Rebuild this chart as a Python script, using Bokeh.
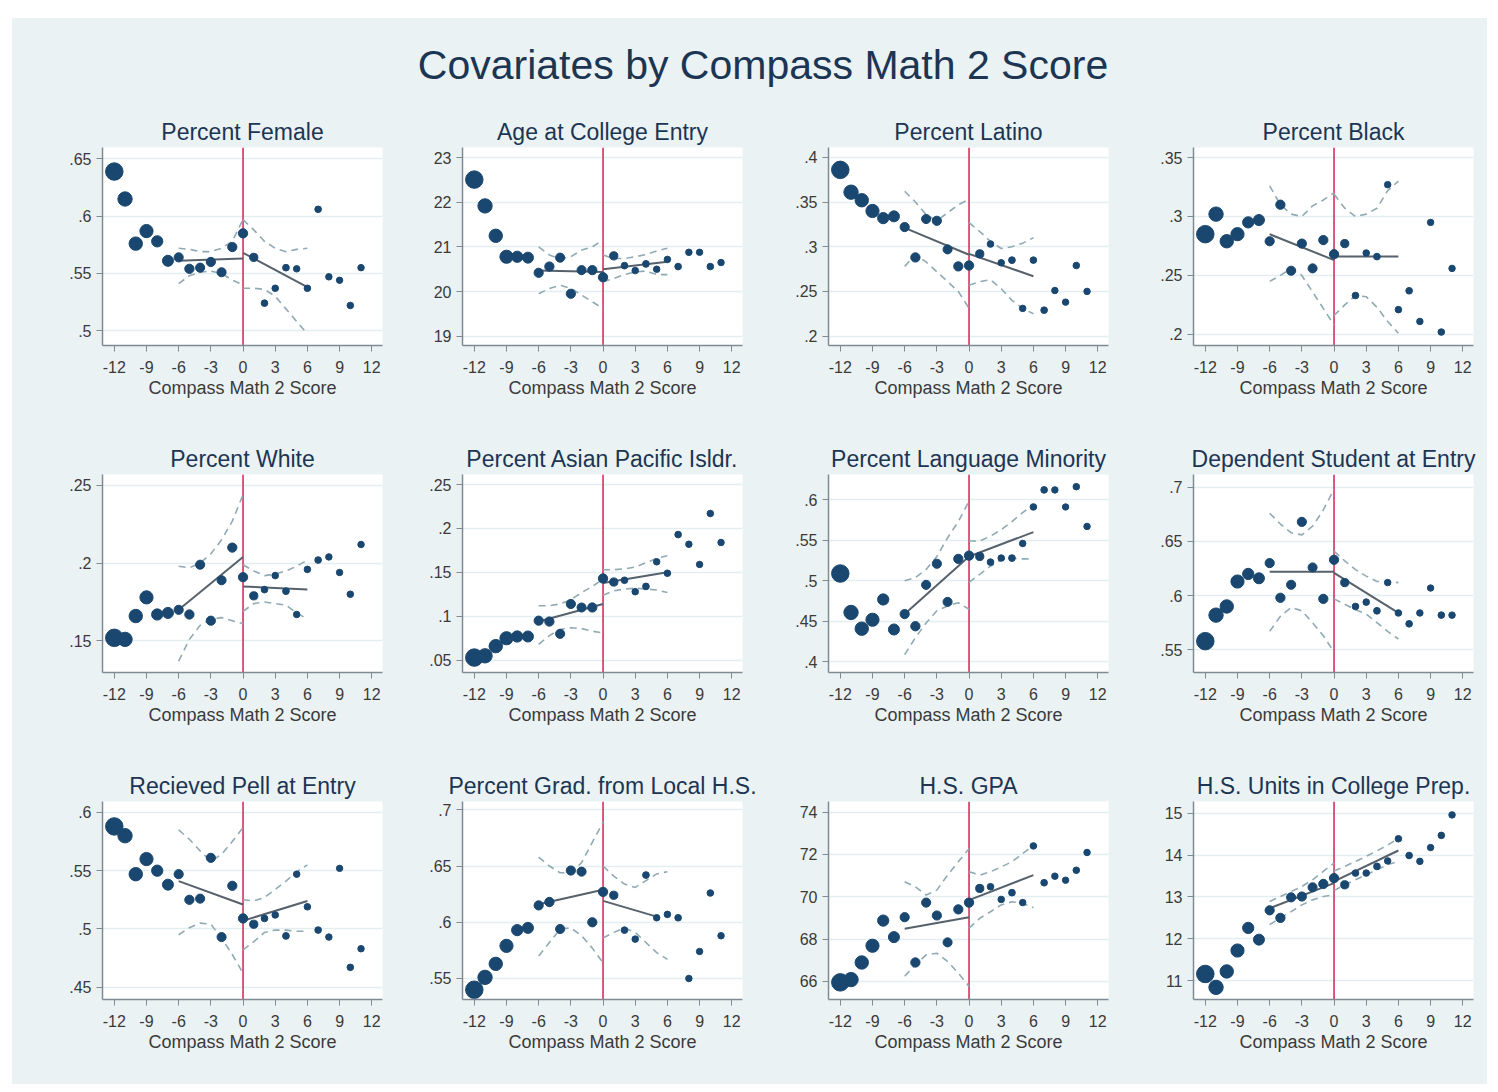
import numpy as np
from bokeh.plotting import figure
from bokeh.layouts import column, row
from bokeh.models import Span, FixedTicker, Spacer
from bokeh.embed import file_html
from bokeh.resources import INLINE

# ---------------- data ----------------
main_title = "Covariates by Compass Math 2 Score"
x_label = "Compass Math 2 Score"
score_bins = list(range(-12, 12))
x_ticks = [-12, -9, -6, -3, 0, 3, 6, 9, 12]
x_tick_labels = ["-12", "-9", "-6", "-3", "0", "3", "6", "9", "12"]
# approximate number of students per score bin
n_obs = [2900, 1950, 1700, 1650, 1200, 1150, 800, 820, 790, 800, 780, 810,
         820, 640, 420, 410, 430, 400, 410, 420, 400, 390, 410, 400]
fit_left_x = [-6, 0]
fit_right_x = [0, 6]
ci_left_x = [-6, -5, -4, -3, -2, -1, 0]
ci_right_x = [0, 1, 2, 3, 4, 5, 6]

titles = ["Percent Female", "Age at College Entry", "Percent Latino", "Percent Black",
          "Percent White", "Percent Asian Pacific Isldr.", "Percent Language Minority",
          "Dependent Student at Entry", "Recieved Pell at Entry",
          "Percent Grad. from Local H.S.", "H.S. GPA", "H.S. Units in College Prep."]

female = [.639, .615, .576, .587, .578, .561, .564, .554, .555, .560, .551, .573,
          .585, .564, .524, .537, .555, .554, .537, .606, .547, .544, .522, .555]
female_fit_l = [.561, .563]
female_fit_r = [.568, .538]
female_ci_lh = [.572, .571, .569, .569, .572, .578, .597]
female_ci_ll = [.541, .548, .551, .552, .550, .544, .540]
female_ci_rh = [.597, .588, .578, .572, .569, .571, .572]
female_ci_rl = [.537, .537, .536, .530, .519, .508, .497]

age = [22.51, 21.92, 21.25, 20.78, 20.78, 20.76, 20.42, 20.56, 20.76, 19.95, 20.48, 20.48,
       20.32, 20.80, 20.58, 20.47, 20.62, 20.50, 20.72, 20.56, 20.88, 20.88, 20.56, 20.65]
age_fit_l = [20.47, 20.44]
age_fit_r = [20.50, 20.67]
age_ci_lh = [21.00, 20.82, 20.73, 20.78, 20.93, 21.00, 21.16]
age_ci_ll = [19.95, 20.07, 20.14, 20.07, 19.92, 19.77, 19.62]
age_ci_rh = [20.82, 20.74, 20.74, 20.78, 20.83, 20.91, 20.97]
age_ci_rl = [20.22, 20.29, 20.38, 20.44, 20.46, 20.38, 20.38]

latino = [.386, .361, .352, .340, .332, .334, .322, .288, .331, .329, .297, .278,
          .279, .292, .303, .282, .285, .231, .285, .229, .251, .238, .279, .250]
latino_fit_l = [.321, .291]
latino_fit_r = [.292, .267]
latino_ci_lh = [.362, .350, .336, .329, .338, .347, .353]
latino_ci_ll = [.278, .291, .283, .272, .261, .250, .231]
latino_ci_rh = [.327, .317, .306, .298, .300, .304, .310]
latino_ci_rl = [.257, .261, .263, .253, .240, .231, .225]

black = [.285, .302, .279, .285, .295, .297, .279, .310, .254, .277, .256, .280,
         .268, .277, .233, .269, .266, .327, .221, .237, .211, .295, .202, .256]
black_fit_l = [.285, .263]
black_fit_r = [.266, .266]
black_ci_lh = [.326, .310, .302, .300, .309, .314, .320]
black_ci_ll = [.245, .250, .256, .250, .236, .222, .208]
black_ci_rh = [.319, .307, .300, .302, .307, .322, .330]
black_ci_rl = [.216, .225, .233, .232, .223, .211, .201]

white = [.152, .151, .166, .178, .167, .168, .170, .167, .199, .163, .189, .210,
         .191, .179, .183, .192, .182, .167, .196, .202, .204, .194, .180, .212]
white_fit_l = [.170, .204]
white_fit_r = [.185, .183]
white_ci_lh = [.198, .197, .200, .206, .215, .227, .244]
white_ci_ll = [.137, .151, .160, .164, .165, .163, .161]
white_ci_rh = [.199, .195, .192, .193, .195, .198, .202]
white_ci_rl = [.169, .174, .175, .174, .173, .168, .164]

asian = [.053, .055, .066, .075, .077, .077, .095, .094, .080, .114, .110, .110,
         .143, .139, .141, .128, .134, .162, .149, .193, .182, .159, .217, .184]
asian_fit_l = [.094, .114]
asian_fit_r = [.138, .150]
asian_ci_lh = [.112, .112, .114, .119, .127, .134, .142]
asian_ci_ll = [.068, .078, .085, .087, .086, .083, .081]
asian_ci_rh = [.153, .153, .154, .156, .161, .166, .169]
asian_ci_rl = [.124, .129, .131, .132, .131, .130, .127]

langmin = [.509, .461, .441, .452, .477, .440, .459, .444, .495, .521, .474, .527,
           .531, .530, .523, .528, .528, .546, .591, .612, .612, .591, .616, .567]
langmin_fit_l = [.459, .530]
langmin_fit_r = [.530, .560]
langmin_ci_lh = [.500, .504, .514, .530, .553, .573, .598]
langmin_ci_ll = [.409, .430, .448, .463, .469, .473, .465]
langmin_ci_rh = [.549, .549, .555, .563, .573, .584, .594]
langmin_ci_rl = [.498, .508, .518, .526, .528, .527, .527]

depend = [.558, .582, .590, .613, .620, .616, .630, .598, .610, .668, .626, .597,
          .633, .612, .590, .594, .586, .612, .584, .574, .584, .607, .582, .582]
depend_fit_l = [.622, .622]
depend_fit_r = [.621, .584]
depend_ci_lh = [.676, .666, .658, .656, .664, .679, .698]
depend_ci_ll = [.567, .581, .589, .586, .575, .563, .548]
depend_ci_rh = [.641, .632, .624, .618, .613, .613, .612]
depend_ci_rl = [.597, .592, .587, .583, .575, .567, .560]

pell = [.588, .580, .547, .560, .550, .538, .547, .525, .526, .561, .493, .537,
        .509, .504, .509, .512, .494, .547, .519, .499, .493, .552, .467, .483]
pell_fit_l = [.541, .521]
pell_fit_r = [.507, .524]
pell_ci_lh = [.585, .577, .567, .558, .564, .575, .587]
pell_ci_ll = [.495, .501, .505, .504, .492, .478, .462]
pell_ci_rh = [.525, .524, .527, .534, .541, .549, .555]
pell_ci_rl = [.482, .489, .497, .499, .499, .498, .498]

localhs = [.540, .551, .563, .579, .593, .595, .615, .618, .594, .646, .645, .600,
           .627, .624, .593, .585, .642, .604, .607, .604, .550, .574, .626, .588]
localhs_fit_l = [.616, .629]
localhs_fit_r = [.619, .605]
localhs_fit_r_x = [0, 5]
localhs_ci_lh = [.658, .650, .644, .644, .653, .671, .689]
localhs_ci_ll = [.570, .582, .594, .595, .588, .577, .564]
localhs_ci_rh = [.650, .641, .634, .631, .637, .643, .645]
localhs_ci_rl = [.586, .591, .595, .591, .582, .573, .567]

gpa = [65.95, 66.08, 66.89, 67.68, 68.87, 68.09, 69.03, 66.89, 69.72, 69.11, 67.84, 69.40,
       69.72, 70.39, 70.47, 69.87, 70.19, 69.72, 72.40, 70.66, 70.97, 70.78, 71.25, 72.09]
gpa_fit_l = [68.48, 69.03]
gpa_fit_r = [69.84, 71.02]
gpa_ci_lh = [70.71, 70.47, 70.08, 70.31, 71.02, 71.65, 72.27]
gpa_ci_ll = [66.24, 66.78, 67.25, 67.33, 66.94, 66.39, 65.76]
gpa_ci_rh = [71.18, 71.02, 71.18, 71.41, 71.65, 72.04, 72.43]
gpa_ci_rl = [68.51, 68.98, 69.29, 69.61, 69.76, 69.69, 69.48]

units = [11.16, 10.84, 11.22, 11.72, 12.26, 11.98, 12.68, 12.50, 12.99, 13.01, 13.23, 13.31,
         13.45, 13.29, 13.57, 13.57, 13.73, 13.86, 14.39, 13.99, 13.85, 14.18, 14.47, 14.96]
units_fit_l = [12.73, 13.33]
units_fit_r = [13.37, 14.11]
units_ci_lh = [12.89, 13.01, 13.13, 13.25, 13.41, 13.61, 13.81]
units_ci_ll = [12.34, 12.50, 12.65, 12.81, 12.93, 13.01, 13.05]
units_ci_rh = [13.62, 13.73, 13.85, 13.97, 14.10, 14.24, 14.40]
units_ci_rl = [13.15, 13.29, 13.41, 13.53, 13.65, 13.77, 13.85]

y_ticks = [
    [.5, .55, .6, .65], [19, 20, 21, 22, 23], [.2, .25, .3, .35, .4], [.2, .25, .3, .35],
    [.15, .2, .25], [.05, .1, .15, .2, .25], [.4, .45, .5, .55, .6], [.55, .6, .65, .7],
    [.45, .5, .55, .6], [.55, .6, .65, .7], [66, 68, 70, 72, 74], [11, 12, 13, 14, 15]]
y_tick_labels = [
    [".5", ".55", ".6", ".65"], ["19", "20", "21", "22", "23"], [".2", ".25", ".3", ".35", ".4"],
    [".2", ".25", ".3", ".35"], [".15", ".2", ".25"], [".05", ".1", ".15", ".2", ".25"],
    [".4", ".45", ".5", ".55", ".6"], [".55", ".6", ".65", ".7"], [".45", ".5", ".55", ".6"],
    [".55", ".6", ".65", ".7"], ["66", "68", "70", "72", "74"], ["11", "12", "13", "14", "15"]]

# ---------------- styling ----------------
BG = "#eaf2f3"
NAVY = "#1a476f"
FIT = "#56616c"
CI = "#90aab4"
RED = "#d7305f"
TITLE_C = "#1c3553"
TXT = "#3a3a3a"
AXIS_C = "#7f8a93"
GRID = "#e4edef"
FONT = "Liberation Sans"

y_ranges = [(.487, .660), (18.79, 23.23), (.1895, .411), (.1906, .3585),
            (.1297, .257), (.036, .2614), (.387, .631), (.5291, .7117),
            (.4394, .6094), (.5313, .7074), (65.14, 74.50), (10.55, 15.28)]

series = [
    (female, female_fit_l, female_fit_r, fit_right_x, female_ci_lh, female_ci_ll, female_ci_rh, female_ci_rl),
    (age, age_fit_l, age_fit_r, fit_right_x, age_ci_lh, age_ci_ll, age_ci_rh, age_ci_rl),
    (latino, latino_fit_l, latino_fit_r, fit_right_x, latino_ci_lh, latino_ci_ll, latino_ci_rh, latino_ci_rl),
    (black, black_fit_l, black_fit_r, fit_right_x, black_ci_lh, black_ci_ll, black_ci_rh, black_ci_rl),
    (white, white_fit_l, white_fit_r, fit_right_x, white_ci_lh, white_ci_ll, white_ci_rh, white_ci_rl),
    (asian, asian_fit_l, asian_fit_r, fit_right_x, asian_ci_lh, asian_ci_ll, asian_ci_rh, asian_ci_rl),
    (langmin, langmin_fit_l, langmin_fit_r, fit_right_x, langmin_ci_lh, langmin_ci_ll, langmin_ci_rh, langmin_ci_rl),
    (depend, depend_fit_l, depend_fit_r, fit_right_x, depend_ci_lh, depend_ci_ll, depend_ci_rh, depend_ci_rl),
    (pell, pell_fit_l, pell_fit_r, fit_right_x, pell_ci_lh, pell_ci_ll, pell_ci_rh, pell_ci_rl),
    (localhs, localhs_fit_l, localhs_fit_r, localhs_fit_r_x, localhs_ci_lh, localhs_ci_ll, localhs_ci_rh, localhs_ci_rl),
    (gpa, gpa_fit_l, gpa_fit_r, fit_right_x, gpa_ci_lh, gpa_ci_ll, gpa_ci_rh, gpa_ci_rl),
    (units, units_fit_l, units_fit_r, fit_right_x, units_ci_lh, units_ci_ll, units_ci_rh, units_ci_rl),
]

marker_sizes = list(np.sqrt(np.array(n_obs, dtype=float)) * 0.325)

border_left = [90, 48, 49, 49]
border_right = [32, 37, 36, 14]


def make_panel(i):
    r, c = divmod(i, 4)
    vals, fl, fr, frx, clh, cll, crh, crl = series[i]
    p = figure(frame_width=280, frame_height=198,
               x_range=(-13.1, 13.0), y_range=y_ranges[i],
               output_backend="svg", toolbar_location=None, title=titles[i],
               min_border_left=border_left[c], min_border_right=border_right[c],
               min_border_top=36, min_border_bottom=93 if r < 2 else 85,
               background_fill_color="white", border_fill_color=BG,
               outline_line_color=None)
    p.title.align = "center"
    p.title.text_font = FONT
    p.title.text_font_size = "23px"
    p.title.text_font_style = "normal"
    p.title.text_color = TITLE_C
    p.title.standoff = 5

    p.xgrid.visible = False
    p.ygrid.ticker = FixedTicker(ticks=y_ticks[i])
    p.ygrid.grid_line_color = GRID
    p.ygrid.grid_line_width = 1.5

    p.xaxis.ticker = FixedTicker(ticks=x_ticks)
    p.xaxis.major_label_overrides = {t: l for t, l in zip(x_ticks, x_tick_labels)}
    p.yaxis.ticker = FixedTicker(ticks=y_ticks[i])
    p.yaxis.major_label_overrides = {t: l for t, l in zip(y_ticks[i], y_tick_labels[i])}
    p.xaxis.axis_label = x_label
    for ax in (p.xaxis, p.yaxis):
        ax.axis_line_color = AXIS_C
        ax.axis_line_width = 1.5
        ax.major_tick_line_color = AXIS_C
        ax.major_tick_out = 6
        ax.major_tick_in = 0
        ax.minor_tick_line_color = None
        ax.major_label_text_font = FONT
        ax.major_label_text_font_size = "16px"
        ax.major_label_text_color = TXT
        ax.axis_label_text_font = FONT
        ax.axis_label_text_font_size = "18px"
        ax.axis_label_text_font_style = "normal"
        ax.axis_label_text_color = TXT
        ax.axis_label_standoff = 2
    p.xaxis.major_label_standoff = 9
    p.yaxis.major_label_standoff = 5

    span = Span(location=0, dimension="height", line_color=RED, line_width=1.6, level="underlay")
    p.add_layout(span)

    for xs, ys in ((ci_left_x, clh), (ci_left_x, cll), (ci_right_x, crh), (ci_right_x, crl)):
        p.line(xs, ys, line_color=CI, line_width=1.6, line_dash="7 5")
    p.line(fit_left_x, fl, line_color=FIT, line_width=2)
    p.line(frx, fr, line_color=FIT, line_width=2)
    p.scatter(score_bins, vals, size=marker_sizes, fill_color=NAVY, line_color=NAVY,
              line_width=1)
    return p


panels = [make_panel(i) for i in range(12)]

tf = figure(width=1475, height=93, toolbar_location=None, output_backend="svg",
            x_axis_type=None, y_axis_type=None, title=main_title,
            min_border_top=74, min_border_bottom=0, min_border_left=26, min_border_right=0,
            background_fill_color=BG, border_fill_color=BG, outline_line_color=None)
tf.title.align = "center"
tf.title.text_font = FONT
tf.title.text_font_size = "41px"
tf.title.text_font_style = "normal"
tf.title.text_color = TITLE_C
tf.grid.visible = False

inner = column(tf,
               row(*panels[0:4], styles={"background-color": BG}),
               row(*panels[4:8], styles={"background-color": BG}),
               row(*panels[8:12], styles={"background-color": BG}),
               styles={"background-color": BG})

layout = column(Spacer(height=18), row(Spacer(width=12), inner))

open("out.html", "w").write(file_html(layout, INLINE))
